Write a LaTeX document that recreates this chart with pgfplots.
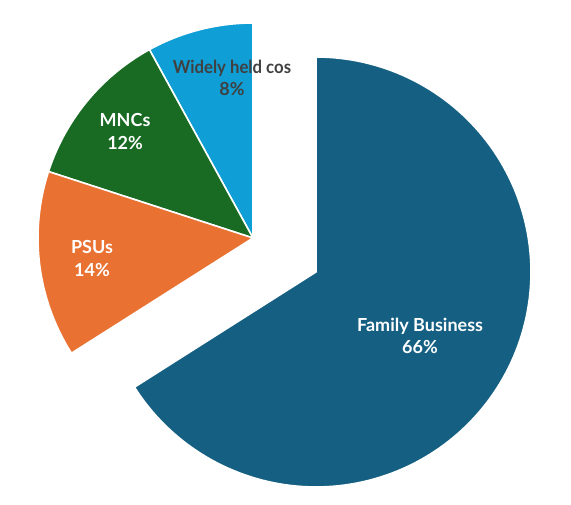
\documentclass[border=0pt]{standalone}
\usepackage{pgfplots}
\pgfplotsset{compat=1.18}
\usepackage{fontspec}
\setmainfont{Lato}
\definecolor{fam}{HTML}{156082}
\definecolor{psu}{HTML}{E97132}
\definecolor{mnc}{HTML}{196B24}
\definecolor{wid}{HTML}{0F9ED5}
\definecolor{lbl}{HTML}{404040}
\begin{document}
\begin{tikzpicture}
\begin{axis}[
  width=285.5pt, height=252pt, scale only axis,
  xmin=-1.1767, xmax=1.4791, ymin=-1.2372, ymax=1.1070,
  hide axis, clip=false,
  every axis plot/.append style={line width=0.8pt, draw=white, line join=round},
]
% Family Business 66% : 90 -> 90-237.6 (exploded)
\addplot[fill=fam, domain=-147.6:90, samples=150] ({0.293+cos(x)},{-0.158+sin(x)}) -- (axis cs:0.293,-0.158) -- cycle;
% Widely held cos 8% : 90 -> 118.8
\addplot[fill=wid, domain=90:118.8, samples=30] ({cos(x)},{sin(x)}) -- (axis cs:0,0) -- cycle;
% MNCs 12% : 118.8 -> 162
\addplot[fill=mnc, domain=118.8:162, samples=40] ({cos(x)},{sin(x)}) -- (axis cs:0,0) -- cycle;
% PSUs 14% : 162 -> 212.4
\addplot[fill=psu, domain=162:212.4, samples=40] ({cos(x)},{sin(x)}) -- (axis cs:0,0) -- cycle;
\path (rel axis cs:0,0) rectangle (rel axis cs:1,1);
\begin{scope}[every node/.style={font=\bfseries\fontsize{9}{11.2}\selectfont, align=center}]
\node[text=lbl] at (axis cs:-0.098,0.745) {\scalebox{0.93}[1]{Widely held cos}\\8\%};
\node[text=white] at (axis cs:-0.595,0.495) {MNCs\\12\%};
\node[text=white] at (axis cs:-0.749,-0.095) {PSUs\\14\%};
\node[text=white] at (axis cs:0.777,-0.455) {Family Business\\66\%};
\end{scope}
\end{axis}
\end{tikzpicture}
\end{document}
